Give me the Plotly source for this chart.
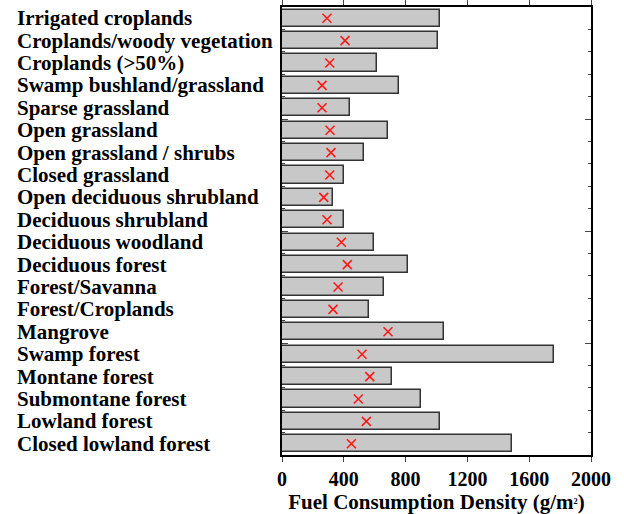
import plotly.graph_objects as go

categories = [
    "Irrigated croplands", "Croplands/woody vegetation", "Croplands (>50%)",
    "Swamp bushland/grassland", "Sparse grassland", "Open grassland",
    "Open grassland / shrubs", "Closed grassland", "Open deciduous shrubland",
    "Deciduous shrubland", "Deciduous woodland", "Deciduous forest",
    "Forest/Savanna", "Forest/Croplands", "Mangrove", "Swamp forest",
    "Montane forest", "Submontane forest", "Lowland forest", "Closed lowland forest",
]
bar_values = [1020, 1012, 617, 755, 440, 688, 533, 399, 330, 404,
              595, 813, 662, 565, 1046, 1760, 712, 899, 1025, 1488]
marker_values = [291, 408, 309, 259, 259, 311, 317, 309, 270, 291,
                 384, 423, 363, 330, 686, 518, 568, 494, 546, 449]
x_ticks = [0, 400, 800, 1200, 1600, 2000]

idx = list(range(len(categories)))
font = "Liberation Serif"

fig = go.Figure()
fig.add_trace(go.Bar(
    x=bar_values, y=idx, orientation="h", width=0.77,
    marker=dict(color="#c8c8c8", line=dict(color="#333333", width=1.5)),
    showlegend=False,
))
fig.add_trace(go.Scatter(
    x=marker_values, y=idx, mode="markers",
    marker=dict(symbol="x-thin", size=9, line=dict(color="#ff1a1a", width=1.6)),
    showlegend=False,
))

L, R, T, B = 282, 33, 7, 59
W, H = 624, 514
pw = W - L - R
for i, c in enumerate(categories):
    fig.add_annotation(
        x=(15 - L) / pw, xref="paper", y=i, yref="y", text="<b>%s</b>" % c,
        xanchor="left", yanchor="middle", showarrow=False,
        font=dict(family=font, size=21, color="black"),
    )

fig.update_layout(
    width=W, height=H, margin=dict(l=L, r=R, t=T, b=B, autoexpand=False),
    plot_bgcolor="white", paper_bgcolor="white", bargap=0,
    font=dict(family=font, color="black"),
)
fig.update_xaxes(
    range=[0, 2000], tickvals=x_ticks, ticktext=["<b>%d</b>" % v for v in x_ticks],
    tickfont=dict(family=font, size=20), ticks="outside", ticklen=5, tickwidth=1.2,
    showline=True, linecolor="black", linewidth=1.5, mirror="ticks", showgrid=False,
    zeroline=False, automargin=False,
    title=dict(text="<b>Fuel Consumption Density (g/m<span style='font-size:12px'><sup>2</sup></span>)</b>",
               font=dict(family=font, size=21), standoff=5),
)
fig.update_yaxes(
    range=[19.5, -0.5], tickvals=[-0.5, 4.5, 9.5, 14.5, 19.5], showticklabels=False,
    ticks="inside", ticklen=6, tickwidth=1.2,
    minor=dict(tick0=0.5, dtick=1, ticks="inside", ticklen=3, tickwidth=1, showgrid=False),
    showline=True, linecolor="black", linewidth=1.5, mirror="ticks", showgrid=False,
    zeroline=False, automargin=False,
)

fig.write_html("out.html", config={"displayModeBar": False},
               post_script="document.body.style.margin='0';document.body.style.overflow='hidden';")
